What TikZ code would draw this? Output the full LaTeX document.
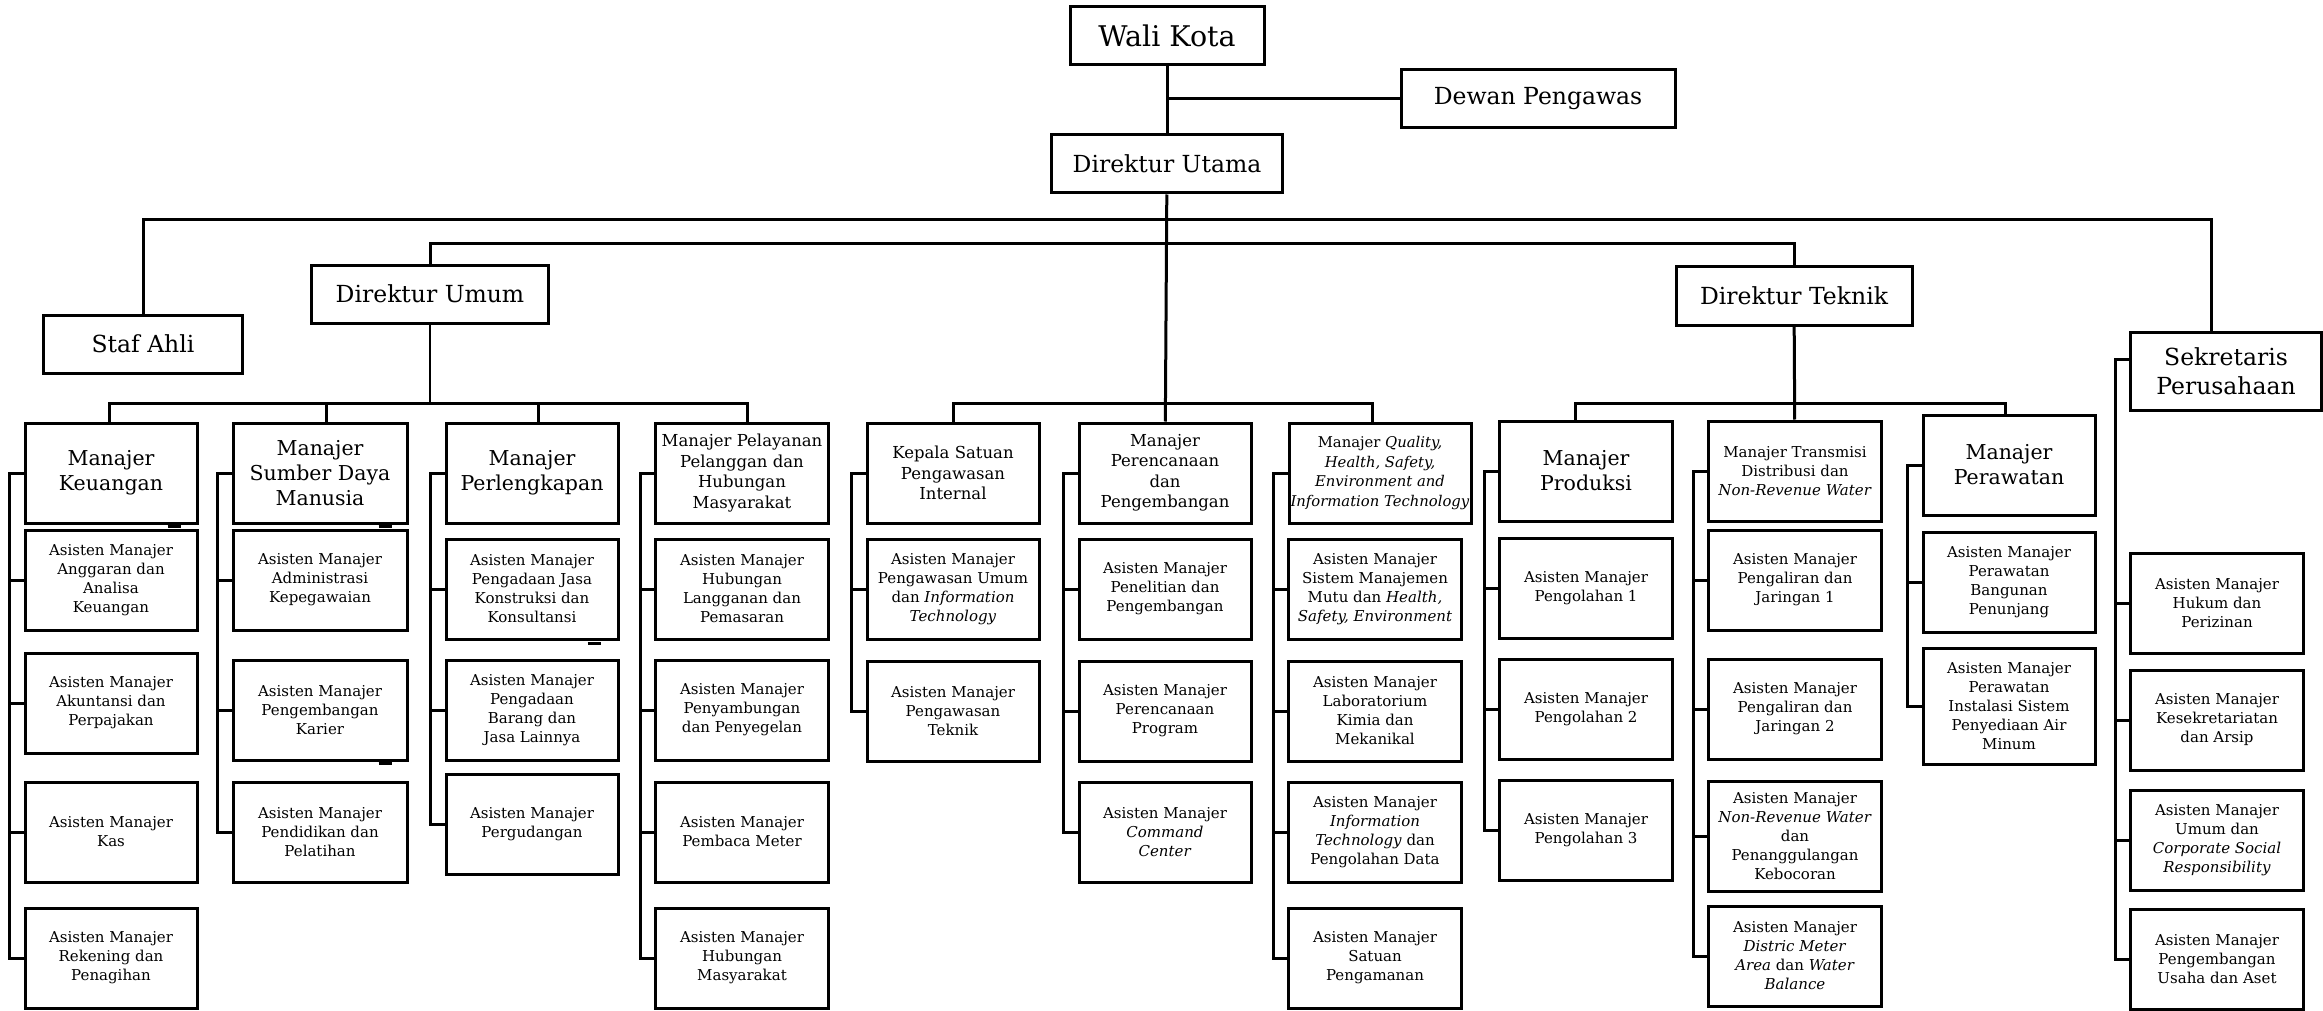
\documentclass[tikz,border=0pt]{standalone}
\usepackage{fontspec}
\setmainfont{DejaVu Serif}

\begin{document}
\begin{tikzpicture}[
    x=1pt, y=-1pt,
    head/.style={rectangle, draw, line width=3pt, inner sep=0pt, align=center,
        font=\fontsize{23.5}{29}\selectfont},
    chief/.style={rectangle, draw, line width=3pt, inner sep=0pt, align=center,
        minimum width=172pt, minimum height=100pt, font=\fontsize{20.5}{25}\selectfont},
    manager/.style={rectangle, draw, line width=3pt, inner sep=0pt, align=center,
        minimum width=172pt, minimum height=100pt, font=\fontsize{16.5}{20.5}\selectfont},
    assistant/.style={rectangle, draw, line width=3pt, inner sep=0pt, align=center,
        minimum width=172pt, minimum height=100pt, font=\fontsize{15}{19}\selectfont},
    link/.style={line width=3pt},
    stub/.style={line width=3.5pt}
]
\useasboundingbox (0,0) rectangle (2323,1011);

% top of the chart
\node (WaliKota) [head, minimum width=194pt, minimum height=58pt, font=\fontsize{28.5}{34}\selectfont] at (1167,36) {Wali Kota};
\node (Dewan) [head, minimum width=274pt, minimum height=58pt] at (1538,99) {Dewan Pengawas};
\node (DirUtama) [head, minimum width=231pt, minimum height=58pt] at (1167,164) {Direktur Utama};
\node (StafAhli) [head, minimum width=199pt, minimum height=58pt] at (143,344) {Staf Ahli};
\node (DirUmum) [head, minimum width=237pt, minimum height=58pt] at (430,294) {Direktur Umum};
\node (DirTeknik) [head, minimum width=236pt, minimum height=59pt] at (1794,296) {Direktur Teknik};
\node (Sekretaris0) [head, minimum width=191pt, minimum height=78pt] at (2226,371) {Sekretaris\\Perusahaan};

% Direktur Umum
\node (Keuangan0) [chief] at (111,473) {Manajer\\Keuangan};
\node (Keuangan1) [assistant] at (111,580) {Asisten Manajer\\Anggaran dan\\Analisa\\Keuangan};
\node (Keuangan2) [assistant] at (111,703) {Asisten Manajer\\Akuntansi dan\\Perpajakan};
\node (Keuangan3) [assistant] at (111,832) {Asisten Manajer\\Kas};
\node (Keuangan4) [assistant] at (111,958) {Asisten Manajer\\Rekening dan\\Penagihan};

\node (SDM0) [chief, minimum width=174pt] at (320,473) {Manajer\\Sumber Daya\\Manusia};
\node (SDM1) [assistant, minimum width=174pt] at (320,580) {Asisten Manajer\\Administrasi\\Kepegawaian};
\node (SDM2) [assistant, minimum width=174pt] at (320,710) {Asisten Manajer\\Pengembangan\\Karier};
\node (SDM3) [assistant, minimum width=174pt] at (320,832) {Asisten Manajer\\Pendidikan dan\\Pelatihan};

\node (Perlengkapan0) [chief] at (532,473) {Manajer\\Perlengkapan};
\node (Perlengkapan1) [assistant] at (532,589) {Asisten Manajer\\Pengadaan Jasa\\Konstruksi dan\\Konsultansi};
\node (Perlengkapan2) [assistant] at (532,710) {Asisten Manajer\\Pengadaan\\Barang dan\\Jasa Lainnya};
\node (Perlengkapan3) [assistant] at (532,824) {Asisten Manajer\\Pergudangan};

\node (Pelayanan0) [manager, minimum width=173pt] at (742,473) {Manajer Pelayanan\\Pelanggan dan\\Hubungan\\Masyarakat};
\node (Pelayanan1) [assistant, minimum width=173pt] at (742,589) {Asisten Manajer\\Hubungan\\Langganan dan\\Pemasaran};
\node (Pelayanan2) [assistant, minimum width=173pt] at (742,710) {Asisten Manajer\\Penyambungan\\dan Penyegelan};
\node (Pelayanan3) [assistant, minimum width=173pt] at (742,832) {Asisten Manajer\\Pembaca Meter};
\node (Pelayanan4) [assistant, minimum width=173pt] at (742,958) {Asisten Manajer\\Hubungan\\Masyarakat};

% Direktur Utama
\node (Kepala0) [manager] at (953,473) {Kepala Satuan\\Pengawasan\\Internal};
\node (Kepala1) [assistant] at (953,589) {Asisten Manajer\\Pengawasan Umum\\dan \textit{Information}\\\textit{Technology}};
\node (Kepala2) [assistant] at (953,711) {Asisten Manajer\\Pengawasan\\Teknik};

\node (Perencanaan0) [manager] at (1165,473) {Manajer\\Perencanaan\\dan\\Pengembangan};
\node (Perencanaan1) [assistant] at (1165,589) {Asisten Manajer\\Penelitian dan\\Pengembangan};
\node (Perencanaan2) [assistant] at (1165,711) {Asisten Manajer\\Perencanaan\\Program};
\node (Perencanaan3) [assistant] at (1165,832) {Asisten Manajer\\\textit{Command}\\\textit{Center}};

\node (Quality0) [manager, minimum width=182pt, font=\fontsize{14.8}{19.5}\selectfont] at (1380,473) {Manajer \textit{Quality,}\\\textit{Health, Safety,}\\\textit{Environment and}\\\textit{Information Technology}};
\node (Quality1) [assistant, minimum width=173pt] at (1375,589) {Asisten Manajer\\Sistem Manajemen\\Mutu dan \textit{Health,}\\\textit{Safety, Environment}};
\node (Quality2) [assistant, minimum width=173pt] at (1375,711) {Asisten Manajer\\Laboratorium\\Kimia dan\\Mekanikal};
\node (Quality3) [assistant, minimum width=173pt] at (1375,832) {Asisten Manajer\\\textit{Information}\\\textit{Technology} dan\\Pengolahan Data};
\node (Quality4) [assistant, minimum width=173pt] at (1375,958) {Asisten Manajer\\Satuan\\Pengamanan};

% Direktur Teknik
\node (Produksi0) [chief, minimum width=173pt] at (1586,471) {Manajer\\Produksi};
\node (Produksi1) [assistant, minimum width=173pt] at (1586,588) {Asisten Manajer\\Pengolahan 1};
\node (Produksi2) [assistant, minimum width=173pt] at (1586,709) {Asisten Manajer\\Pengolahan 2};
\node (Produksi3) [assistant, minimum width=173pt] at (1586,830) {Asisten Manajer\\Pengolahan 3};

\node (Transmisi0) [manager, minimum width=173pt, font=\fontsize{15}{19}\selectfont] at (1795,471) {Manajer Transmisi\\Distribusi dan\\\textit{Non-Revenue Water}};
\node (Transmisi1) [assistant, minimum width=173pt] at (1795,580) {Asisten Manajer\\Pengaliran dan\\Jaringan 1};
\node (Transmisi2) [assistant, minimum width=173pt] at (1795,709) {Asisten Manajer\\Pengaliran dan\\Jaringan 2};
\node (Transmisi3) [assistant, minimum width=173pt, minimum height=110pt] at (1795,836) {Asisten Manajer\\\textit{Non-Revenue Water}\\dan\\Penanggulangan\\Kebocoran};
\node (Transmisi4) [assistant, minimum width=173pt] at (1795,956) {Asisten Manajer\\\textit{Distric Meter}\\\textit{Area} dan \textit{Water}\\\textit{Balance}};

\node (Perawatan0) [chief] at (2009,465) {Manajer\\Perawatan};
\node (Perawatan1) [assistant] at (2009,582) {Asisten Manajer\\Perawatan\\Bangunan\\Penunjang};
\node (Perawatan2) [assistant, minimum height=116pt] at (2009,706) {Asisten Manajer\\Perawatan\\Instalasi Sistem\\Penyediaan Air\\Minum};

% Sekretaris Perusahaan
\node (Sekretaris1) [assistant, minimum width=173pt] at (2217,603) {Asisten Manajer\\Hukum dan\\Perizinan};
\node (Sekretaris2) [assistant, minimum width=173pt] at (2217,720) {Asisten Manajer\\Kesekretariatan\\dan Arsip};
\node (Sekretaris3) [assistant, minimum width=173pt] at (2217,840) {Asisten Manajer\\Umum dan\\\textit{Corporate Social}\\\textit{Responsibility}};
\node (Sekretaris4) [assistant, minimum width=173pt] at (2217,959) {Asisten Manajer\\Pengembangan\\Usaha dan Aset};

% bars
\coordinate (Bar1) at (1167,220);
\coordinate (Bar2) at (1167,243);
\coordinate (BarUmum) at (430,403);
\coordinate (BarUtama) at (1167,403);
\coordinate (BarTeknik) at (1794,403);

\draw[link] (WaliKota) -- (DirUtama);
\draw[link] (Dewan.west) -- (Dewan.west -| WaliKota);
\draw[link] (DirUtama) -- (Perencanaan0);
\draw[link] (StafAhli.north) |- (Bar1) -| ([xshift=-15pt]Sekretaris0.north);
\draw[link] (DirUmum.north) |- (Bar2) -| (DirTeknik.north);

\draw[link, line width=2pt] (DirUmum) -- (BarUmum);
\draw[link] ([xshift=-2pt]Keuangan0.north) |- (BarUmum) -| ([xshift=5pt]Pelayanan0.north);
\draw[link] ([xshift=6pt]SDM0.north) -- ([xshift=6pt]SDM0.north |- BarUmum);
\draw[link] ([xshift=6pt]Perlengkapan0.north) -- ([xshift=6pt]Perlengkapan0.north |- BarUmum);

\draw[link] (Kepala0.north) |- (BarUtama) -| ([xshift=-8pt]Quality0.north);

\draw[link] (DirTeknik) -- (Transmisi0);
\draw[link] ([xshift=-11pt]Produksi0.north) |- (BarTeknik) -| ([xshift=-4pt]Perawatan0.north);

% side lines of each column
\draw[link] (Keuangan0.west) -| ([xshift=-14pt]Keuangan4.west) -- (Keuangan4.west);
\draw[link] (Keuangan1.west) -- ++(-14,0) (Keuangan2.west) -- ++(-14,0) (Keuangan3.west) -- ++(-14,0);
\draw[link] (SDM0.west) -| ([xshift=-14pt]SDM3.west) -- (SDM3.west);
\draw[link] (SDM1.west) -- ++(-14,0) (SDM2.west) -- ++(-14,0);
\draw[link] (Perlengkapan0.west) -| ([xshift=-14pt]Perlengkapan3.west) -- (Perlengkapan3.west);
\draw[link] (Perlengkapan1.west) -- ++(-14,0) (Perlengkapan2.west) -- ++(-14,0);
\draw[link] (Pelayanan0.west) -| ([xshift=-14pt]Pelayanan4.west) -- (Pelayanan4.west);
\draw[link] (Pelayanan1.west) -- ++(-14,0) (Pelayanan2.west) -- ++(-14,0) (Pelayanan3.west) -- ++(-14,0);
\draw[link] (Kepala0.west) -| ([xshift=-14pt]Kepala2.west) -- (Kepala2.west);
\draw[link] (Kepala1.west) -- ++(-14,0);
\draw[link] (Perencanaan0.west) -| ([xshift=-14pt]Perencanaan3.west) -- (Perencanaan3.west);
\draw[link] (Perencanaan1.west) -- ++(-14,0) (Perencanaan2.west) -- ++(-14,0);
\draw[link] (Quality0.west) -| ([xshift=-14pt]Quality4.west) -- (Quality4.west);
\draw[link] (Quality1.west) -- ++(-14,0) (Quality2.west) -- ++(-14,0) (Quality3.west) -- ++(-14,0);
\draw[link] (Produksi0.west) -| ([xshift=-14pt]Produksi3.west) -- (Produksi3.west);
\draw[link] (Produksi1.west) -- ++(-14,0) (Produksi2.west) -- ++(-14,0);
\draw[link] (Transmisi0.west) -| ([xshift=-14pt]Transmisi4.west) -- (Transmisi4.west);
\draw[link] (Transmisi1.west) -- ++(-14,0) (Transmisi2.west) -- ++(-14,0) (Transmisi3.west) -- ++(-14,0);
\draw[link] (Perawatan0.west) -| ([xshift=-14pt]Perawatan2.west) -- (Perawatan2.west);
\draw[link] (Perawatan1.west) -- ++(-14,0);
\draw[link] ([yshift=12pt]Sekretaris0.west) -| ([xshift=-14pt]Sekretaris4.west) -- (Sekretaris4.west);
\draw[link] (Sekretaris1.west) -- ++(-14,0) (Sekretaris2.west) -- ++(-14,0) (Sekretaris3.west) -- ++(-14,0);

% small marks under some boxes
\draw[stub] ([xshift=-31pt,yshift=-2pt]Keuangan0.south east) -- ++(13,0);
\draw[stub] ([xshift=-30pt,yshift=-2pt]SDM0.south east) -- ++(13,0);
\draw[stub] ([xshift=-30pt,yshift=-2pt]SDM2.south east) -- ++(13,0);
\draw[stub] ([xshift=-32pt,yshift=-3pt]Perlengkapan1.south east) -- ++(13,0);

\end{tikzpicture}
\end{document}
